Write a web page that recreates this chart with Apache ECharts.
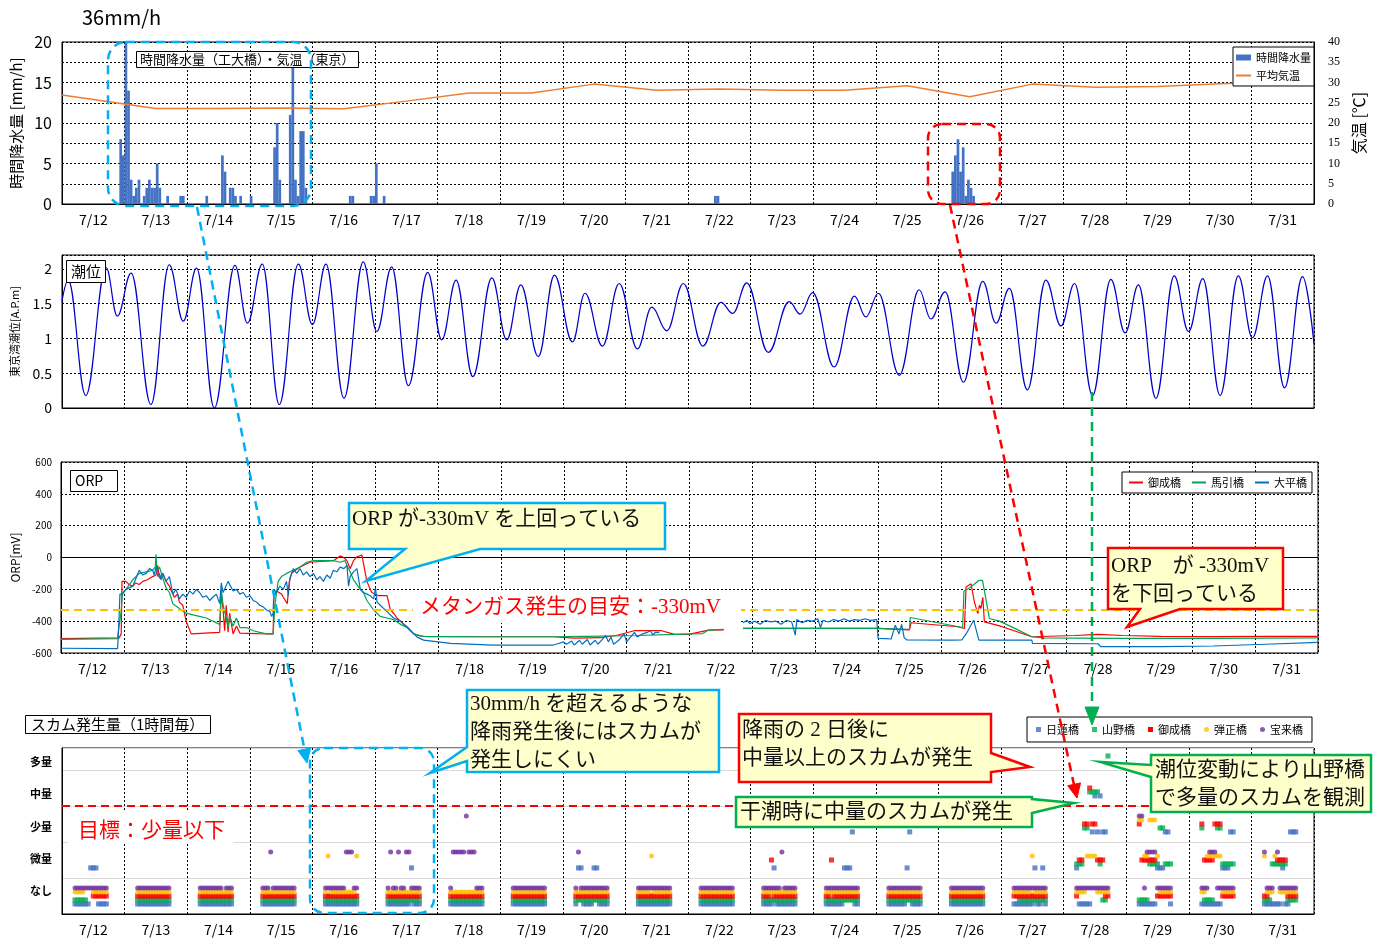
<!DOCTYPE html>
<html>
<head>
<meta charset="utf-8">
<script src="https://cdn.jsdelivr.net/npm/echarts/dist/echarts.min.js"></script>
<style>
html,body{margin:0;padding:0;background:#fff;}
#chart{width:1384px;height:939px;}
</style>
</head>
<body>
<div id="chart"></div>
<script>
// ---------- data ----------
const days = ['7/12','7/13','7/14','7/15','7/16','7/17','7/18','7/19','7/20','7/21',
              '7/22','7/23','7/24','7/25','7/26','7/27','7/28','7/29','7/30','7/31'];

// hourly rainfall [hour since 7/12 0:00, mm/h]
const rainHourly = [[22,8],[23,6],[24,36],[25,14],[26,3],[27,1],[28,2],[29,3],[31,1],[32,2],[33,3],
  [34,2],[35,2],[36,5],[37,2],[40,1],[45,1],[46,1],[55,1],[61,6],[62,4],[64,2],[65,2],[66,1],[68,1],
  [72,1],[81,7],[82,10],[83,3],[87,11],[88,17],[89,3],[90,1],[91,9],[92,9],[93,2],[110,1],[111,1],
  [118,1],[119,1],[120,5],[123,1],[250,1],[251,1],[341,4],[342,6],[343,8],[344,4],[345,7],[346,1],
  [347,3],[348,2],[349,1]];

// daily mean air temperature [hour, °C]
const tempDaily = [[0,26.9],[36,23.6],[60,23.6],[84,23.7],[108,23.5],[132,25.4],[156,27.4],[180,27.4],
  [204,29.6],[228,28.1],[252,28.4],[276,28.1],[300,28.1],[324,29.2],[348,26.5],[372,29.6],[396,28.8],
  [420,29.0],[444,29.7],[468,30.2],[480,30.6]];

// tide level highs and lows [hour, A.P. m]
const tideLevel = [[0,1.54],[2.4,1.84],[9.1,0.18],[16.9,2.02],[21.2,1.32],[26.5,1.94],[34.1,0.05],
  [41.1,2.06],[46.5,1.25],[51.6,2.01],[58.4,0.0],[66.3,2.05],[71.1,1.22],[76.8,2.07],[83.3,0.05],
  [90.6,2.07],[96,1.2],[101.2,2.07],[108.1,0.14],[115.5,2.1],[120.7,1.1],[126.4,2.03],[132.8,0.32],
  [140.2,1.95],[145.6,0.98],[151.1,1.84],[157.5,0.45],[164.8,1.87],[170.5,0.98],[175.9,1.77],
  [182.6,0.74],[188.8,1.91],[195.7,0.95],[200.5,1.65],[207.2,0.89],[213.6,1.79],[220.6,0.85],
  [226.1,1.45],[231.9,1.11],[238.2,1.79],[245.7,0.89],[252.6,1.52],[257.2,1.36],[262.5,1.8],
  [270.8,0.8],[278.8,1.53],[283,1.35],[287.8,1.66],[296,0.59],[303.8,1.61],[308.2,1.31],[313,1.65],
  [321,0.47],[328.6,1.7],[333.1,1.28],[338.6,1.67],[345.6,0.37],[353,1.82],[358.1,1.22],[363.2,1.72],
  [370.1,0.26],[377.2,1.84],[383,1.18],[388.2,1.79],[395.1,0.18],[402.1,1.85],[407.6,1.08],
  [412.7,1.77],[419.4,0.14],[426.4,1.9],[431.9,1.1],[437.4,1.86],[444,0.18],[451,1.9],[456.4,1.01],
  [462.2,1.9],[468.7,0.29],[475.6,1.89],[480,0.92]];

// ORP [hour, mV]
const orpOnari = [[0,-510],[22.2,-505],[23.0,-480],[23.3,-150],[24.8,-150],[26,-170],[27.4,-180],
  [28.5,-160],[29.9,-170],[31.2,-150],[33,-140],[35,-120],[36.3,-110],[36.9,-50],[37.6,-130],
  [38.9,-100],[40.1,-150],[41.4,-180],[42.7,-230],[43.3,-250],[44.5,-230],[45.2,-280],[46.5,-300],
  [47.8,-400],[49.7,-480],[55,-475],[60.6,-470],[61.2,-220],[61.9,-330],[62.5,-460],[63.1,-300],
  [63.8,-470],[64.4,-350],[65.7,-480],[67,-430],[68.3,-475],[75,-478],[81.0,-480],[81.3,-250],
  [82.3,-210],[82.9,-200],[84.2,-230],[84.9,-250],[86.4,-290],[87.2,-150],[88.1,-100],[89.5,-80],
  [91.3,-60],[95.1,-30],[99,-25],[104,-20],[106.6,10],[108,0],[109.2,-20],[110.4,-70],[111.7,-20],
  [113,5],[114.9,15],[116.8,-150],[118.1,-200],[118.7,-220],[121.3,-240],[124.5,-240],[125.8,-330],
  [127,-350],[128.3,-380],[130.9,-420],[132.5,-440],[134.7,-480],[137,-492],[140,-498],[188,-498],
  [196,-506],[206,-504],[212,-490],[218.9,-460],[229.3,-460],[234.3,-483],[239.6,-483],[247.3,-456],
  [253.1,-455],[253.5,null],[260.4,-445],[311.7,-445],[324,-455],[324.6,-410],[342.4,-435],[345,-446],
  [345.6,-185],[347.5,-165],[348.8,-280],[350.1,-353],[350.7,-300],[351.3,-320],[352,-250],
  [352.6,-404],[358.4,-430],[364.8,-465],[370.7,-498],[387.2,-490],[396,-483],[405.6,-490],
  [420,-495],[440,-497],[460,-495],[480,-495]];

const orpUmahiki = [[0,-515],[21.6,-510],[22.0,-450],[22.9,-350],[23.5,-220],[24.8,-200],[27.4,-140],
  [29.9,-100],[32.5,-90],[35,-80],[36.0,-60],[36.3,20],[36.6,-90],[37.6,-60],[38.9,-130],[40.1,-190],
  [41.4,-220],[42.7,-290],[45.2,-320],[47.8,-350],[50.4,-360],[52.9,-370],[55.5,-380],[58,-400],
  [60.6,-420],[61.2,-200],[61.9,-300],[63.1,-380],[63.8,-440],[64.4,-370],[65.7,-430],[67,-380],
  [68.3,-440],[70.8,-440],[73.4,-460],[75.9,-470],[78.5,-480],[81,-480],[81.7,-300],[82.9,-150],
  [84.2,-120],[86.1,-100],[88.7,-80],[91.3,-60],[93.8,-30],[96.4,-20],[104,-20],[106.6,-30],
  [108.5,-20],[109.2,-50],[110.4,-90],[111.7,-140],[114.3,-200],[115.5,-220],[116.8,-270],
  [118.1,-300],[119.4,-330],[121.9,-370],[124.5,-380],[127,-390],[129.6,-420],[132.2,-440],
  [134.7,-480],[138,-495],[160,-498],[188,-498],[200,-495],[220,-490],[234.3,-483],[245,-478],
  [247.3,-456],[253.1,-452],[253.5,null],[260.4,-445],[311.7,-445],[324,-452],[324.3,-377],
  [344.3,-440],[344.8,-210],[347,-190],[350.5,-144],[351.9,-144],[354.5,-383],[358.4,-400],
  [364.8,-450],[370.7,-498],[375,-505],[400,-508],[440,-508],[480,-505]];

const orpOhira = [[0,-570],[21.6,-572],[22.0,-450],[22.5,-230],[23.5,-230],[24.8,-200],[27.4,-180],
  [29.9,-80],[31.2,-110],[32.5,-100],[33.8,-70],[35,-80],[35.6,-110],[36.3,-60],[37.0,-120],
  [37.6,-100],[38.2,-140],[38.9,-100],[40.1,-150],[41.4,-120],[42.7,-230],[43.9,-200],[45.2,-260],
  [46.5,-230],[47.8,-250],[49.1,-210],[50.4,-230],[51.7,-200],[52.9,-220],[54.2,-250],[55.5,-240],
  [56.8,-270],[58,-250],[59.3,-230],[60.6,-290],[61.2,-160],[61.9,-220],[63.8,-150],[65.7,-210],
  [67,-200],[68.3,-230],[69.6,-220],[70.8,-250],[72.1,-240],[73.4,-270],[74.7,-280],[75.9,-300],
  [77.2,-310],[78.5,-330],[79.8,-340],[80.4,-370],[81.0,-350],[81.3,-200],[82.3,-220],[83.5,-180],
  [84.9,-200],[86.1,-150],[86.8,-240],[87.4,-130],[88.7,-70],[90,-100],[91.3,-70],[92.5,-110],
  [93.8,-90],[95.1,-120],[96.4,-100],[97.7,-140],[98.9,-120],[100.2,-150],[101.5,-110],[102.8,-130],
  [104,-80],[105.3,-90],[106.6,-60],[108,-70],[109.2,-50],[109.8,-180],[110.4,-120],[111.7,-90],
  [113,-70],[114.3,-200],[115.5,-220],[116.8,-230],[118.1,-240],[119.4,-260],[120.1,-190],
  [120.7,-280],[121.9,-300],[124.5,-340],[127,-380],[129.6,-400],[132.2,-440],[136,-500],
  [138.5,-519],[148.8,-540],[165,-550],[188,-550],[190,-540],[192,-530],[193,-545],[195,-525],
  [196,-550],[198,-520],[199,-545],[201,-515],[202,-550],[204,-520],[205,-545],[207,-510],[208,-490],
  [209,-530],[210,-500],[211,-545],[213,-520],[215,-480],[216,-530],[218,-490],[219,-470],[220,-500],
  [222,-480],[224,-470],[225,-460],[226,-485],[227,-470],[228.5,-470],[229,null],[260.4,-410],
  [262,-395],[263,-415],[265,-400],[267,-420],[269,-395],[271,-405],[273,-400],[275,-420],[277,-395],
  [279,-405],[280.4,-488],[281,-390],[283,-410],[285,-395],[287,-400],[289,-385],[290,-440],
  [291,-395],[293,-405],[295,-390],[297,-400],[299,-385],[301,-400],[303,-390],[305,-395],[307,-385],
  [309,-395],[311.5,-390],[312,-508],[315,-510],[317,-512],[318.6,-425],[320,-480],[321,-420],
  [322,-505],[323,-518],[340,-519],[344,-518],[346,-470],[348.5,-394],[350.5,-519],[370.7,-519],
  [371,-540],[396,-542],[397,-560],[420,-560],[440,-556],[460,-545],[480,-533]];

// scum amount, hourly 5:00-17:00 for each day (0 なし … 4 多量, '-' no record)
const scumLevels = ['なし','微量','少量','中量','多量'];
const obsHours = [5,6,7,8,9,10,11,12,13,14,15,16,17];
const scumNichiren = ['0000001110000','0000000000000','0000000000000','0000000000000','0000000000000',
  '0000000001000','0000000000000','0000000000000','0110000110000','0000000000000','0000000000000',
  '0000100000000','0000000111200','0000000120000','0000000000000','0000000010010','100000232322-',
  '0000000111220','0000000011122','0000000100222'];
const scumYamano = ['00000--------','0000000000000','0000000000000','0000000000000','0000000000000',
  '0000000000000','0000000000000','0000000000000','0000000000000','0000000000000','0000000000000',
  '0000000000000','0000000000000','0000000000000','0000000000000','--00000000000','1112233331004',
  '0000111122111','20000-2211111','0001111110000'];
const scumOnari = ['-------000000','0000000000000','0000000000000','0000000000000','0000000000000',
  '0000000000000','0000000000000','0000000000000','0000000000000','0000000000000','0000000000000',
  '0001000000000','0010000000000','0000000000000','0000000000000','0000000000000','0112232211100',
  '2111111000000','2111122200000','00---11110000'];
const scumDanjo = ['0000---000000','0000000000000','0000000000000','0000000000000','0100000000001',
  '0000000000000','0000000000000','0000000000000','0000000000000','0000010000000','0000000000000',
  '0000000000000','0000000000000','0000000000000','0000000000000','0000000100000','0000111100000',
  '2211222100000','0011111100000','10001-0000000'];
const scumHorai = ['0000000000000','0000000000000','000000000-000','0001000000000','0000000011100',
  '0100100110000','0111112111000','0000000000000','0100000000000','0000000000000','0000000000000',
  '0000000100000','0000000000000','0000000000000','0000000000000','0000000000000','0000000000000',
  '2201111000000','0001110000000','1000-10000000'];

// ---------- drawing ----------
const SANS = "'Noto Sans CJK JP', 'Noto Sans', sans-serif";
const SERIF_MIX = "'Liberation Serif', 'Noto Sans CJK JP', serif";
const dotted = {color:'#000', type:[2,2], width:1};

function dayAxis(gridIndex, showLabels) {
  return {
    type:'category', gridIndex, data:days, boundaryGap:true,
    axisLine:{show:true, lineStyle:{color:'#000', width:1}},
    axisTick:{show:false},
    axisLabel:{show:showLabels, interval:0, color:'#000', fontSize:14, margin:9, fontFamily:SANS},
    splitLine:{show:true, interval:0, lineStyle:dotted}
  };
}
function hourAxis(gridIndex) {
  return {type:'value', gridIndex, min:0, max:480, show:false};
}

function scumPoints(levels, shift) {
  const pts = [];
  levels.forEach((row, d) => {
    obsHours.forEach((hr, i) => {
      const c = row[i];
      if (c !== '-') pts.push([d * 24 + hr, Number(c) + 0.5 + shift]);
    });
  });
  return pts;
}

const scumDefs = [
  {name:'日蓮橋', levels:scumNichiren, color:'#4472C4', symbol:'rect',   shift:-0.22},
  {name:'山野橋', levels:scumYamano,   color:'#00B050', symbol:'rect',   shift:-0.11},
  {name:'御成橋', levels:scumOnari,    color:'#FF0000', symbol:'rect',   shift:0},
  {name:'弾正橋', levels:scumDanjo,    color:'#FFC000', symbol:'circle', shift:0.11},
  {name:'宝来橋', levels:scumHorai,    color:'#7030A0', symbol:'circle', shift:0.22}
];

const scumSeries = scumDefs.map((s, i) => ({
  type:'scatter', name:s.name, xAxisIndex:7, yAxisIndex:4,
  symbol:s.symbol, symbolSize:5, itemStyle:{color:s.color}, z:3,
  data:scumPoints(s.levels, s.shift),
  markLine: i === 2 ? {
    silent:true, symbol:['none','none'], label:{show:false},
    lineStyle:{color:'#FF0000', type:[8,5], width:2}, data:[{yAxis:3}]
  } : undefined
}));

// annotation shapes
const ANN_BLUE = '#00B0F0', ANN_RED = '#FF0000', ANN_GREEN = '#00B050', NOTE_FILL = '#FFFFCC';
const dash = [9,6];
function dashedLine(x1,y1,x2,y2,color){
  return {type:'line', z:100, shape:{x1,y1,x2,y2}, style:{stroke:color, lineWidth:2.5, lineDash:dash}};
}
function arrowHead(points,color){
  return {type:'polygon', z:100, shape:{points}, style:{fill:color, stroke:color, lineWidth:1}};
}
function dashedBox(x,y,w,h,r,color){
  return {type:'rect', z:100, shape:{x,y,width:w,height:h,r}, style:{fill:'none', stroke:color, lineWidth:2.5, lineDash:dash}};
}
function callout(points,color){
  return {type:'polygon', z:100, shape:{points}, style:{fill:NOTE_FILL, stroke:color, lineWidth:2.5}};
}
function note(text,x,y,color,size){
  return {type:'text', z:101, style:{text, x, y, fill:color || '#111', font:(size||21)+'px '+SERIF_MIX, textVerticalAlign:'middle'}};
}
function whiteBox(x,y,w,h){
  return {type:'rect', z:50, shape:{x,y,width:w,height:h}, style:{fill:'#fff'}};
}

const graphics = [
  // heavy rain window and its link to the scum panel
  dashedBox(108,42,203,164,18,ANN_BLUE),
  dashedLine(197,207,305,752,ANN_BLUE),
  arrowHead([[307,763],[310.7,748],[297.9,750.6]],ANN_BLUE),
  dashedBox(310,748,124,165,14,ANN_BLUE),
  callout([[467,690],[719,690],[719,772],[467,772],[467,761],[430,773],[467,747]],ANN_BLUE),
  note('30mm/h を超えるような',470,704),
  note('降雨発生後にはスカムが',470,732),
  note('発生しにくい',470,760),
  // ORP notes
  callout([[349,503],[665,503],[665,549],[480,549],[366,581],[405,549],[349,549]],ANN_BLUE),
  note('ORP が-330mV を上回っている',352,519),
  callout([[1108,548],[1283,548],[1283,609],[1180,609],[1127,627],[1140,609],[1108,609]],ANN_RED),
  note('ORP　が -330mV',1111,566),
  note('を下回っている',1111,594),
  whiteBox(413,590,328,33),
  note('メタンガス発生の目安：-330mV',420,607,'#FF0000'),
  // 7/26 rain and the scum two days later
  dashedBox(928,124,72,80,14,ANN_RED),
  dashedLine(950,205,1074,785,ANN_RED),
  arrowHead([[1077,798],[1080.5,782.9],[1067.7,785.7]],ANN_RED),
  callout([[739,714],[991,714],[991,753],[1030,767],[991,772],[991,782],[739,782]],ANN_RED),
  note('降雨の 2 日後に',742,730),
  note('中量以上のスカムが発生',742,758),
  // low tide of 7/28
  dashedLine(1092,392,1092,710,ANN_GREEN),
  arrowHead([[1085,707],[1099,707],[1092,725]],ANN_GREEN),
  callout([[736,797],[1032,797],[1032,799],[1074,803],[1032,813],[1032,827],[736,827]],ANN_GREEN),
  note('干潮時に中量のスカムが発生',740,812),
  callout([[1151,755],[1371,755],[1371,812],[1151,812],[1151,777],[1100,762],[1151,765]],ANN_GREEN),
  note('潮位変動により山野橋',1155,770),
  note('で多量のスカムを観測',1155,798),
  // scum target
  whiteBox(68,812,165,31),
  note('目標：少量以下',78,831,'#FF0000')
];

const boxTitle = (text,left,top,size,padding) => ({
  text, left, top, padding, borderColor:'#000', borderWidth:1, backgroundColor:'#fff',
  textStyle:{fontSize:size, fontWeight:'normal', color:'#000', fontFamily:SANS, lineHeight:size+2}
});

// line entries in legends are drawn as a bare stroke
const lineOnly = {opacity:0};

const option = {
  animation:false,
  textStyle:{fontFamily:SANS},
  title:[
    {text:'36mm/h', left:82, top:7, padding:0, textStyle:{fontSize:20, fontWeight:'normal', color:'#000', fontFamily:SANS}},
    boxTitle('時間降水量（工大橋）・気温（東京）',136,51,13,[1,4,1,4]),
    boxTitle('潮位',66,260,15,[3,5,3,5]),
    boxTitle('ORP',70,470,14,[3,15,3,5]),
    boxTitle('スカム発生量（1時間毎）',25,715,15,[1,6,1,6])
  ],
  legend:[
    {data:[{name:'時間降水量', icon:'rect'}, {name:'平均気温', itemStyle:lineOnly}], orient:'vertical',
     left:1233, top:47, itemWidth:15, itemHeight:6, itemGap:7, padding:[5,3,5,2],
     borderColor:'#000', borderWidth:1, backgroundColor:'#fff', textStyle:{fontSize:11, color:'#000'}},
    {data:[{name:'御成橋', itemStyle:lineOnly},{name:'馬引橋', itemStyle:lineOnly},{name:'大平橋', itemStyle:lineOnly}],
     left:1122, top:472, itemWidth:14, itemHeight:8, itemGap:10,
     padding:[5,5,5,6], borderColor:'#000', borderWidth:1, backgroundColor:'#fff',
     textStyle:{fontSize:11, color:'#000'}},
    {data:[{name:'日蓮橋',icon:'rect'},{name:'山野橋',icon:'rect'},{name:'御成橋',icon:'rect'},
           {name:'弾正橋',icon:'circle'},{name:'宝来橋',icon:'circle'}],
     left:1027, top:717, itemWidth:5, itemHeight:5, itemGap:13, padding:[7,9,7,9],
     borderColor:'#000', borderWidth:1, backgroundColor:'#fff', textStyle:{fontSize:11, color:'#000'}}
  ],
  grid:[
    {left:62, top:42, width:1252, height:162, show:true, borderColor:'#000', borderWidth:1},
    {left:62, top:255, width:1252, height:153, show:true, borderColor:'#000', borderWidth:1},
    {left:61, top:462, width:1257, height:191, show:true, borderColor:'#000', borderWidth:1},
    {left:62, top:748, width:1252, height:166, show:true, borderColor:'#000', borderWidth:1},
    {left:62, top:746, width:1252, height:161}
  ],
  xAxis:[
    dayAxis(0,true), hourAxis(0),
    dayAxis(1,false), hourAxis(1),
    dayAxis(2,true), hourAxis(2),
    dayAxis(3,true), hourAxis(3),
    {type:'value', gridIndex:4, min:0, max:1, show:false}
  ],
  yAxis:[
    {type:'value', gridIndex:0, min:0, max:20, interval:5, position:'left',
     axisLine:{show:true, lineStyle:{color:'#000'}}, axisTick:{show:false},
     axisLabel:{fontSize:16, color:'#000', margin:10}, splitLine:{show:false},
     name:'時間降水量 [mm/h]', nameLocation:'middle', nameGap:36, nameRotate:90,
     nameTextStyle:{fontSize:15, color:'#000'}},
    {type:'value', gridIndex:0, min:0, max:40, interval:5, position:'right',
     axisLine:{show:true, lineStyle:{color:'#000'}}, axisTick:{show:false},
     axisLabel:{fontSize:12, color:'#000', margin:14, fontFamily:"'Liberation Serif', serif"},
     splitLine:{show:true, lineStyle:dotted},
     name:'気温 [℃]', nameLocation:'middle', nameGap:26, nameRotate:90,
     nameTextStyle:{fontSize:16, color:'#000'}},
    {type:'value', gridIndex:1, min:0, max:2.2, interval:0.5,
     axisLine:{show:true, lineStyle:{color:'#000'}}, axisTick:{show:false},
     axisLabel:{fontSize:14, color:'#000', margin:10, showMaxLabel:false},
     splitLine:{show:true, lineStyle:dotted},
     name:'東京湾潮位[A.P.m]', nameLocation:'middle', nameGap:42, nameRotate:90,
     nameTextStyle:{fontSize:11, color:'#000'}},
    {type:'value', gridIndex:2, min:-600, max:600, interval:200,
     axisLine:{show:true, lineStyle:{color:'#000'}}, axisTick:{show:false},
     axisLabel:{fontSize:10, color:'#000', margin:9},
     splitLine:{show:true, lineStyle:dotted},
     name:'ORP[mV]', nameLocation:'middle', nameGap:34, nameRotate:90,
     nameTextStyle:{fontSize:12, color:'#000'}},
    {type:'value', gridIndex:3, min:0, max:4.611, interval:1,
     axisLine:{show:true, lineStyle:{color:'#000'}}, axisTick:{show:false},
     axisLabel:{show:false}, splitLine:{show:true, lineStyle:{color:'#D9D9D9', width:1}}},
    {type:'category', gridIndex:4, data:scumLevels, boundaryGap:true,
     axisLine:{show:false}, axisTick:{show:false}, splitLine:{show:false},
     axisLabel:{fontSize:11, fontWeight:'bold', color:'#000', margin:10}}
  ],
  series:[
    {type:'bar', name:'時間降水量', xAxisIndex:1, yAxisIndex:0, barWidth:2.7,
     itemStyle:{color:'#4472C4'}, data:rainHourly.map(([h,v]) => [h + 0.5, v])},
    {type:'line', name:'平均気温', xAxisIndex:1, yAxisIndex:1, symbol:'none',
     lineStyle:{color:'#ED7D31', width:1.5}, itemStyle:{color:'#ED7D31'}, data:tempDaily},
    {type:'line', name:'潮位', xAxisIndex:3, yAxisIndex:2, symbol:'none', smooth:0.4, smoothMonotone:'x',
     lineStyle:{color:'#0000CC', width:1.2}, itemStyle:{color:'#0000CC'}, data:tideLevel},
    {type:'line', name:'御成橋', xAxisIndex:5, yAxisIndex:3, symbol:'none',
     lineStyle:{color:'#FF0000', width:1.2}, itemStyle:{color:'#FF0000'}, data:orpOnari,
     markLine:{silent:true, symbol:['none','none'], label:{show:false},
       lineStyle:{color:'#FFC000', type:[8,5], width:2}, data:[{yAxis:-330}]}},
    {type:'line', name:'馬引橋', xAxisIndex:5, yAxisIndex:3, symbol:'none',
     lineStyle:{color:'#00A651', width:1.2}, itemStyle:{color:'#00A651'}, data:orpUmahiki},
    {type:'line', name:'大平橋', xAxisIndex:5, yAxisIndex:3, symbol:'none',
     lineStyle:{color:'#0070C0', width:1.2}, itemStyle:{color:'#0070C0'}, data:orpOhira},
    ...scumSeries
  ],
  graphic:graphics
};

const chart = echarts.init(document.getElementById('chart'), null, {renderer:'canvas'});
chart.setOption(option);
</script>
</body>
</html>
